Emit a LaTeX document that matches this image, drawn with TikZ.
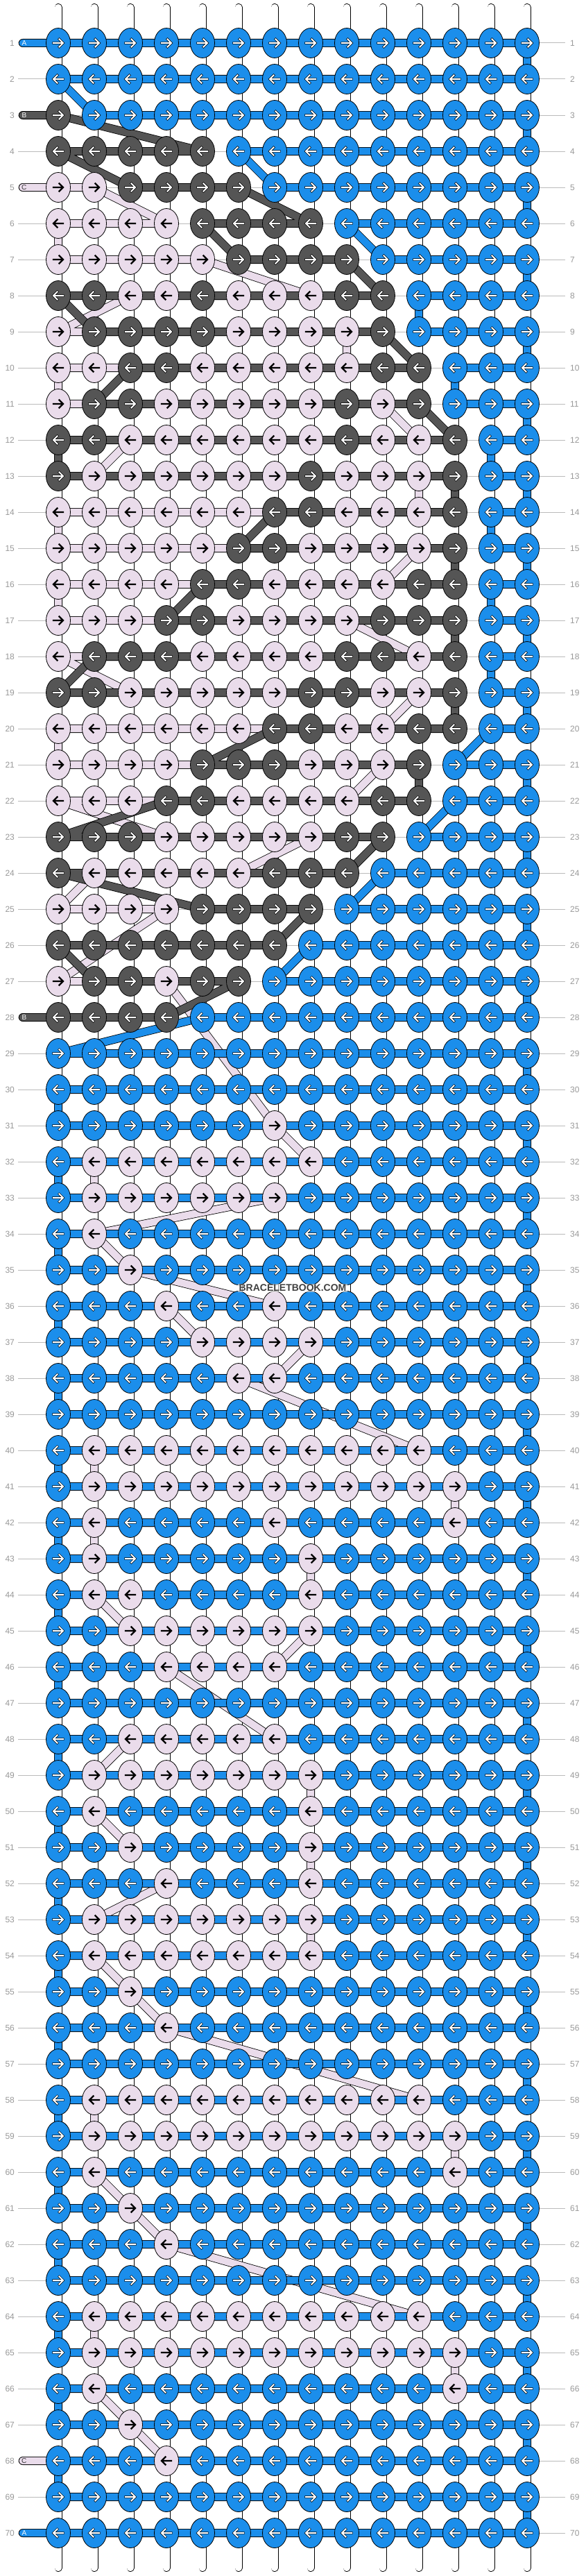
\documentclass[tikz,border=0pt]{standalone}
\usepackage{fontspec}
\setmainfont{Liberation Sans}
\usetikzlibrary{shapes.geometric}

\definecolor{strandA}{HTML}{1B8EEB}
\definecolor{strandB}{HTML}{555555}
\definecolor{strandC}{HTML}{EADCEB}
\definecolor{rownum}{HTML}{999999}
\definecolor{rowline}{HTML}{BBBBBB}

\begin{document}
\begin{tikzpicture}[x=52pt, y=-52pt]
    \tikzstyle{stringedge}=[draw=black, line width=11pt, line cap=round]
    \tikzstyle{stringfill}=[draw=white, line width=9.4pt, line cap=round]
    \tikzstyle{thread}=[draw=black, line width=0.8pt, double distance=10.4pt, line cap=round, line join=round]
    \tikzstyle{threadA}=[thread, double=strandA]
    \tikzstyle{threadB}=[thread, double=strandB]
    \tikzstyle{threadC}=[thread, double=strandC]
    \tikzstyle{knot}=[ellipse, draw=black, line width=0.8pt, minimum width=35pt, minimum height=43pt, inner sep=0pt]
    \tikzstyle{knotA}=[knot, fill=strandA]
    \tikzstyle{knotB}=[knot, fill=strandB]
    \tikzstyle{knotC}=[knot, fill=strandC]
    \tikzstyle{haloA}=[draw=black, line width=3.2pt, line cap=rect, miter limit=4]
    \tikzstyle{haloB}=[haloA]
    \tikzstyle{haloC}=[draw=none]
    \tikzstyle{tipA}=[draw=white, line width=2pt, line cap=rect, miter limit=4]
    \tikzstyle{tipB}=[tipA]
    \tikzstyle{tipC}=[draw=black, line width=2.2pt, line cap=rect]
    \tikzstyle{rowlabel}=[text=rownum, font=\fontsize{12}{12}\selectfont, inner sep=0pt]
    \tikzstyle{stublabel}=[font=\fontsize{10}{10}\selectfont, inner sep=0pt]
    \tikzstyle{watermark}=[fill=white, fill opacity=0.55, text opacity=1, text=black!75, font=\bfseries\fontsize{14}{14}\selectfont, inner sep=1.5pt]

    \useasboundingbox (-0.61538,-0.19231) rectangle (15.61538,71.19231);
    \fill[white] (-0.61538,-0.19231) rectangle (15.61538,71.19231);

    % row guides and numbers
    \foreach \row in {1,...,70} {
        \draw[rowline, line width=1pt] (-0.115,\row) -- (15.05,\row);
        \node[rowlabel, anchor=east] (left\row) at (-0.21,\row) {\row};
        \node[rowlabel, anchor=west] (right\row) at (15.19,\row) {\row};
    }

    % base strings
    \foreach \col in {1,...,14} {
        \draw[stringedge] (\col,0.01) -- (\col,70.97);
        \draw[stringfill] (\col,0.01) -- (\col,70.97);
    }

    % thread C
    \draw[threadC] (0.015,5) -- (2,5) -- (4,6) -- (1,6) -- (1,7) -- (5,7) -- (8,8) -- (3,8) -- (1,9) -- (9,9)
        -- (9,10) -- (1,10) -- (1,11) -- (10,11) -- (11,12) -- (3,12) -- (2,13) -- (11,13) -- (11,14) -- (1,14)
        -- (1,15) -- (11,15) -- (10,16) -- (1,16) -- (1,17) -- (9,17) -- (11,18) -- (1,18) -- (3,19) -- (11,19)
        -- (10,20) -- (1,20) -- (1,21) -- (10,21) -- (9,22) -- (1,22) -- (4,23) -- (8,23) -- (6,24) -- (2,24)
        -- (1,25) -- (4,25) -- (1,27) -- (4,27) -- (7,31) -- (8,32) -- (2,32) -- (2,33) -- (7,33) -- (2,34)
        -- (3,35) -- (7,36) -- (4,36) -- (5,37) -- (8,37) -- (7,38) -- (6,38) -- (11,40) -- (2,40) -- (2,41)
        -- (12,41) -- (12,42) -- (2,42) -- (2,43) -- (8,43) -- (8,44) -- (2,44) -- (3,45) -- (8,45) -- (7,46)
        -- (4,46) -- (7,48) -- (3,48) -- (2,49) -- (8,49) -- (8,50) -- (2,50) -- (3,51) -- (8,51) -- (8,52)
        -- (4,52) -- (2,53) -- (8,53) -- (8,54) -- (2,54) -- (3,55) -- (4,56) -- (11,58) -- (2,58) -- (2,59)
        -- (12,59) -- (12,60) -- (2,60) -- (3,61) -- (4,62) -- (11,64) -- (2,64) -- (2,65) -- (12,65) -- (12,66)
        -- (2,66) -- (3,67) -- (4,68) -- (0.015,68);

    % thread B
    \draw[threadB] (0.015,3) -- (1,3) -- (5,4) -- (1,4) -- (3,5) -- (6,5) -- (8,6) -- (5,6) -- (6,7) -- (9,7)
        -- (10,8) -- (1,8) -- (2,9) -- (10,9) -- (11,10) -- (3,10) -- (2,11) -- (11,11) -- (12,12) -- (1,12)
        -- (1,13) -- (12,13) -- (12,14) -- (7,14) -- (6,15) -- (12,15) -- (12,16) -- (5,16) -- (4,17) -- (12,17)
        -- (12,18) -- (2,18) -- (1,19) -- (12,19) -- (12,20) -- (7,20) -- (5,21) -- (11,21) -- (11,22) -- (4,22)
        -- (1,23) -- (10,23) -- (9,24) -- (1,24) -- (5,25) -- (8,25) -- (7,26) -- (1,26) -- (2,27) -- (6,27)
        -- (4,28) -- (1,28) -- (0.015,28);

    % thread A
    \draw[threadA] (0.015,1) -- (14,1) -- (14,2) -- (1,2) -- (2,3) -- (14,3) -- (14,4) -- (6,4) -- (7,5) -- (14,5)
        -- (14,6) -- (9,6) -- (10,7) -- (14,7) -- (14,8) -- (11,8) -- (11,9) -- (14,9) -- (14,10) -- (12,10)
        -- (12,11) -- (14,11) -- (14,12) -- (13,12) -- (13,13) -- (14,13) -- (14,14) -- (13,14) -- (13,15) -- (14,15)
        -- (14,16) -- (13,16) -- (13,17) -- (14,17) -- (14,18) -- (13,18) -- (13,19) -- (14,19) -- (14,20) -- (13,20)
        -- (12,21) -- (14,21) -- (14,22) -- (12,22) -- (11,23) -- (14,23) -- (14,24) -- (10,24) -- (9,25) -- (14,25)
        -- (14,26) -- (8,26) -- (7,27) -- (14,27) -- (14,28) -- (5,28)
        \foreach \row in {29,31,...,69} { -- (1,\row) -- (14,\row) -- (14,\row+1) -- (1,\row+1) }
        -- (0.015,70);

    % stub letters
    \node[stublabel, text=white] (stubA1) at (0.055,1) {A};
    \node[stublabel, text=white] (stubB3) at (0.055,3) {B};
    \node[stublabel, text=black!80] (stubC5) at (0.055,5) {C};
    \node[stublabel, text=white] (stubB28) at (0.055,28) {B};
    \node[stublabel, text=black!80] (stubC68) at (0.055,68) {C};
    \node[stublabel, text=white] (stubA70) at (0.055,70) {A};

    % knots
    \foreach \pattern [count=\row] in {
        {A,A,A,A,A,A,A,A,A,A,A,A,A,A},
        {A,A,A,A,A,A,A,A,A,A,A,A,A,A},
        {B,A,A,A,A,A,A,A,A,A,A,A,A,A},
        {B,B,B,B,B,A,A,A,A,A,A,A,A,A},
        {C,C,B,B,B,B,A,A,A,A,A,A,A,A},
        {C,C,C,C,B,B,B,B,A,A,A,A,A,A},
        {C,C,C,C,C,B,B,B,B,A,A,A,A,A},
        {B,B,C,C,B,C,C,C,B,B,A,A,A,A},
        {C,B,B,B,B,C,C,C,C,B,A,A,A,A},
        {C,C,B,B,C,C,C,C,C,B,B,A,A,A},
        {C,B,B,C,C,C,C,C,B,C,B,A,A,A},
        {B,B,C,C,C,C,C,C,B,C,C,B,A,A},
        {B,C,C,C,C,C,C,B,C,C,C,B,A,A},
        {C,C,C,C,C,C,B,B,C,C,C,B,A,A},
        {C,C,C,C,C,B,B,C,C,C,C,B,A,A},
        {C,C,C,C,B,B,C,C,C,C,B,B,A,A},
        {C,C,C,B,B,C,C,C,C,B,B,B,A,A},
        {C,B,B,B,C,C,C,C,B,B,C,B,A,A},
        {B,B,C,C,C,C,C,B,B,C,C,B,A,A},
        {C,C,C,C,C,C,B,B,C,C,B,B,A,A},
        {C,C,C,C,B,B,B,C,C,C,B,A,A,A},
        {C,C,C,B,B,C,C,C,C,B,B,A,A,A},
        {B,B,B,C,C,C,C,C,B,B,A,A,A,A},
        {B,C,C,C,C,C,B,B,B,A,A,A,A,A},
        {C,C,C,C,B,B,B,B,A,A,A,A,A,A},
        {B,B,B,B,B,B,B,A,A,A,A,A,A,A},
        {C,B,B,C,B,B,A,A,A,A,A,A,A,A},
        {B,B,B,B,A,A,A,A,A,A,A,A,A,A},
        {A,A,A,A,A,A,A,A,A,A,A,A,A,A},
        {A,A,A,A,A,A,A,A,A,A,A,A,A,A},
        {A,A,A,A,A,A,C,A,A,A,A,A,A,A},
        {A,C,C,C,C,C,C,C,A,A,A,A,A,A},
        {A,C,C,C,C,C,C,A,A,A,A,A,A,A},
        {A,C,A,A,A,A,A,A,A,A,A,A,A,A},
        {A,A,C,A,A,A,A,A,A,A,A,A,A,A},
        {A,A,A,C,A,A,C,A,A,A,A,A,A,A},
        {A,A,A,A,C,C,C,C,A,A,A,A,A,A},
        {A,A,A,A,A,C,C,A,A,A,A,A,A,A},
        {A,A,A,A,A,A,A,A,A,A,A,A,A,A},
        {A,C,C,C,C,C,C,C,C,C,C,A,A,A},
        {A,C,C,C,C,C,C,C,C,C,C,C,A,A},
        {A,C,A,A,A,A,C,A,A,A,A,C,A,A},
        {A,C,A,A,A,A,A,C,A,A,A,A,A,A},
        {A,C,C,A,A,A,A,C,A,A,A,A,A,A},
        {A,A,C,C,C,C,C,C,A,A,A,A,A,A},
        {A,A,A,C,C,C,C,A,A,A,A,A,A,A},
        {A,A,A,A,A,A,A,A,A,A,A,A,A,A},
        {A,A,C,C,C,C,C,A,A,A,A,A,A,A},
        {A,C,C,C,C,C,C,C,A,A,A,A,A,A},
        {A,C,A,A,A,A,A,C,A,A,A,A,A,A},
        {A,A,C,A,A,A,A,C,A,A,A,A,A,A},
        {A,A,A,C,A,A,A,C,A,A,A,A,A,A},
        {A,C,C,C,C,C,C,C,A,A,A,A,A,A},
        {A,C,C,C,C,C,C,C,A,A,A,A,A,A},
        {A,A,C,A,A,A,A,A,A,A,A,A,A,A},
        {A,A,A,C,A,A,A,A,A,A,A,A,A,A},
        {A,A,A,A,A,A,A,A,A,A,A,A,A,A},
        {A,C,C,C,C,C,C,C,C,C,C,A,A,A},
        {A,C,C,C,C,C,C,C,C,C,C,C,A,A},
        {A,C,A,A,A,A,A,A,A,A,A,C,A,A},
        {A,A,C,A,A,A,A,A,A,A,A,A,A,A},
        {A,A,A,C,A,A,A,A,A,A,A,A,A,A},
        {A,A,A,A,A,A,A,A,A,A,A,A,A,A},
        {A,C,C,C,C,C,C,C,C,C,C,A,A,A},
        {A,C,C,C,C,C,C,C,C,C,C,C,A,A},
        {A,C,A,A,A,A,A,A,A,A,A,C,A,A},
        {A,A,C,A,A,A,A,A,A,A,A,A,A,A},
        {A,A,A,C,A,A,A,A,A,A,A,A,A,A},
        {A,A,A,A,A,A,A,A,A,A,A,A,A,A},
        {A,A,A,A,A,A,A,A,A,A,A,A,A,A}} {
        \ifodd\row \def\dir{1}\else \def\dir{-1}\fi
        \foreach \k [count=\col] in \pattern {
            \node[knot\k] (k\row-\col) at (\col,\row) {};
            \begin{scope}[shift={(\col,\row)}, xscale=\dir]
                \draw[halo\k] (-7pt,0pt) -- (6.5pt,0pt) (1.5pt,5.5pt) -- (7pt,0pt) -- (1.5pt,-5.5pt);
                \draw[tip\k] (-7pt,0pt) -- (6.5pt,0pt) (1.5pt,5.5pt) -- (7pt,0pt) -- (1.5pt,-5.5pt);
            \end{scope}
        }
    }

    \node[watermark] (brand) at (7.5,35.5) {BRACELETBOOK.COM};
\end{tikzpicture}
\end{document}
